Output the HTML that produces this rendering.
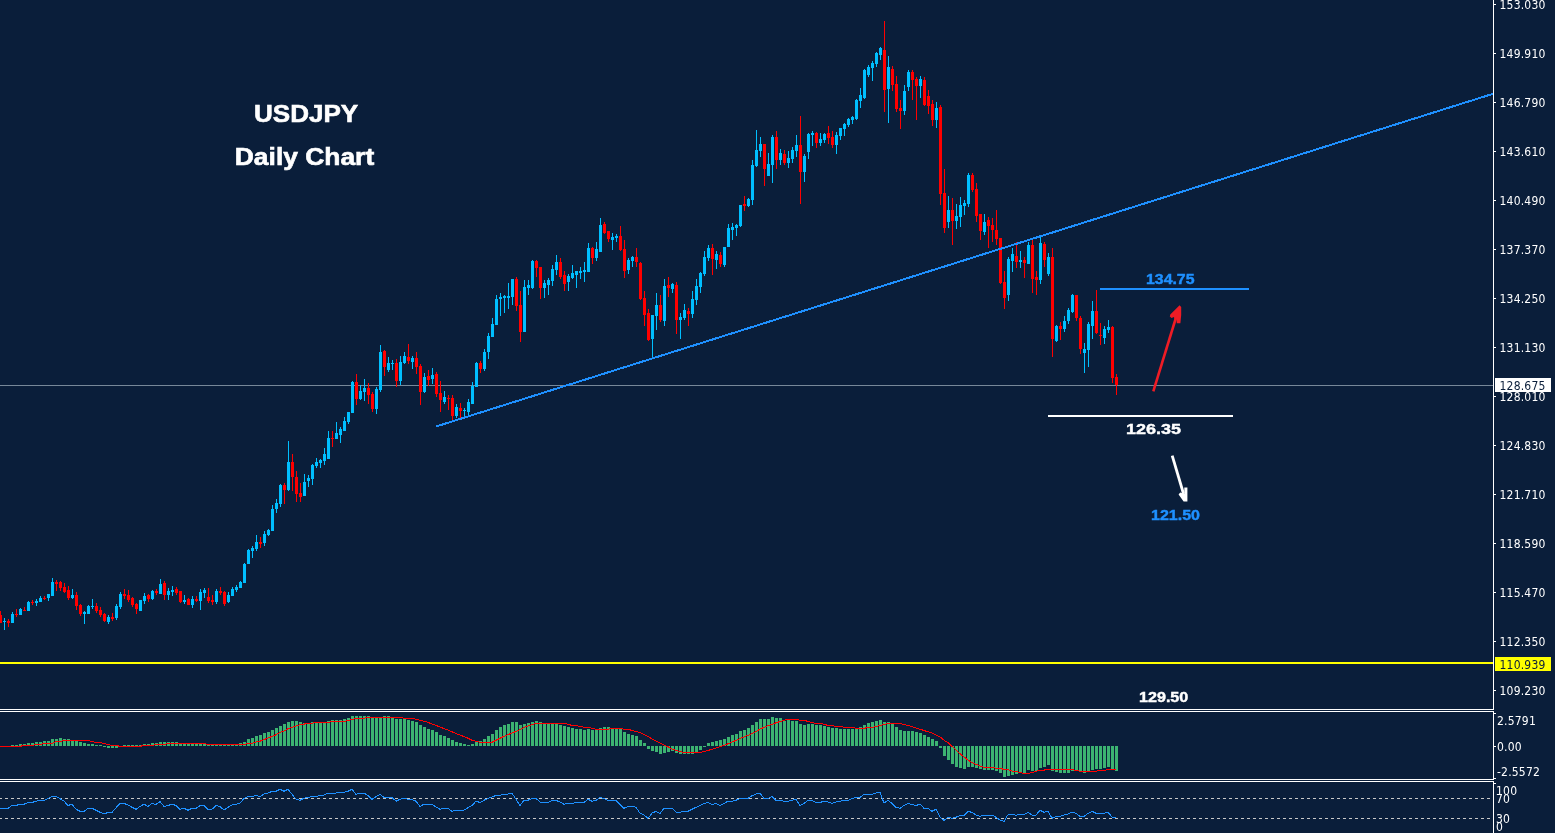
<!DOCTYPE html>
<html><head><meta charset="utf-8"><title>USDJPY Daily Chart</title>
<style>html,body{margin:0;padding:0;background:#0A1E3A;overflow:hidden;width:1555px;height:833px}svg{display:block}.ax{font-family:"DejaVu Sans Condensed","DejaVu Sans","Liberation Sans",sans-serif;font-stretch:condensed;font-size:12px;fill:#FFFFFF;letter-spacing:0.2px}.bd{font-family:"Liberation Sans",Arial,sans-serif;font-weight:bold}</style>
</head><body>
<svg width="1555" height="833" viewBox="0 0 1555 833">
<rect x="0" y="0" width="1555" height="833" fill="#0A1E3A"/>
<rect x="0" y="662" width="1493" height="2" fill="#FFFF00" shape-rendering="crispEdges"/>
<rect x="0" y="385" width="1493" height="1" fill="#778899" shape-rendering="crispEdges"/>
<g shape-rendering="crispEdges">
<path fill="#00BFFF" d="M4 618h1v12h-1zM12 612h1v11h-1zM20 608h1v7h-1zM28 601h1v10h-1zM36 599h1v7h-1zM40 596h1v6h-1zM48 594h1v7h-1zM52 578h1v18h-1zM72 589h1v10h-1zM84 611h1v13h-1zM88 605h1v9h-1zM92 599h1v10h-1zM108 615h1v9h-1zM116 604h1v16h-1zM120 592h1v17h-1zM140 600h1v11h-1zM144 593h1v11h-1zM152 590h1v10h-1zM160 579h1v15h-1zM168 588h1v12h-1zM172 586h1v10h-1zM184 595h1v9h-1zM192 596h1v12h-1zM200 589h1v21h-1zM204 588h1v10h-1zM216 589h1v15h-1zM228 592h1v11h-1zM232 587h1v9h-1zM236 585h1v7h-1zM240 581h1v7h-1zM244 563h1v20h-1zM248 549h1v15h-1zM252 546h1v12h-1zM256 535h1v16h-1zM264 531h1v15h-1zM268 529h1v7h-1zM272 505h1v26h-1zM276 499h1v14h-1zM280 484h1v23h-1zM288 441h1v50h-1zM304 474h1v22h-1zM308 475h1v12h-1zM312 464h1v21h-1zM316 458h1v10h-1zM320 459h1v9h-1zM324 448h1v17h-1zM328 431h1v28h-1zM336 422h1v17h-1zM340 427h1v16h-1zM344 417h1v14h-1zM348 412h1v12h-1zM352 381h1v32h-1zM360 385h1v15h-1zM364 379h1v22h-1zM376 387h1v27h-1zM380 345h1v47h-1zM388 357h1v15h-1zM392 360h1v10h-1zM400 356h1v29h-1zM404 352h1v12h-1zM412 356h1v13h-1zM424 373h1v20h-1zM432 368h1v16h-1zM444 391h1v13h-1zM456 404h1v14h-1zM464 408h1v9h-1zM468 399h1v16h-1zM472 382h1v22h-1zM476 362h1v25h-1zM484 349h1v22h-1zM488 333h1v26h-1zM492 318h1v19h-1zM496 295h1v30h-1zM500 293h1v23h-1zM504 295h1v18h-1zM508 283h1v26h-1zM512 279h1v26h-1zM524 280h1v52h-1zM528 280h1v15h-1zM532 260h1v29h-1zM544 280h1v18h-1zM548 278h1v17h-1zM552 265h1v21h-1zM556 255h1v20h-1zM568 274h1v17h-1zM572 265h1v14h-1zM576 271h1v17h-1zM580 267h1v12h-1zM584 262h1v20h-1zM588 243h1v29h-1zM596 242h1v19h-1zM600 218h1v34h-1zM612 233h1v17h-1zM616 234h1v8h-1zM628 258h1v16h-1zM632 256h1v11h-1zM652 315h1v42h-1zM656 293h1v37h-1zM664 279h1v47h-1zM672 283h1v10h-1zM680 313h1v26h-1zM684 304h1v16h-1zM692 291h1v27h-1zM696 279h1v26h-1zM700 272h1v21h-1zM704 251h1v25h-1zM708 245h1v16h-1zM716 251h1v18h-1zM724 247h1v20h-1zM728 224h1v23h-1zM732 223h1v17h-1zM736 224h1v12h-1zM740 205h1v22h-1zM748 198h1v9h-1zM752 160h1v45h-1zM756 130h1v37h-1zM760 137h1v20h-1zM768 153h1v23h-1zM772 135h1v48h-1zM780 149h1v16h-1zM788 151h1v17h-1zM792 147h1v16h-1zM796 135h1v22h-1zM804 154h1v28h-1zM808 133h1v26h-1zM812 131h1v15h-1zM820 133h1v13h-1zM824 133h1v10h-1zM836 132h1v22h-1zM840 128h1v12h-1zM844 123h1v13h-1zM848 118h1v9h-1zM852 116h1v8h-1zM856 99h1v21h-1zM860 88h1v20h-1zM864 69h1v30h-1zM868 65h1v12h-1zM872 61h1v20h-1zM876 52h1v15h-1zM880 47h1v13h-1zM888 56h1v67h-1zM904 85h1v30h-1zM908 70h1v21h-1zM920 76h1v22h-1zM936 102h1v26h-1zM948 196h1v32h-1zM956 204h1v25h-1zM960 197h1v30h-1zM964 200h1v15h-1zM968 173h1v34h-1zM984 214h1v21h-1zM1008 257h1v44h-1zM1012 248h1v24h-1zM1020 251h1v17h-1zM1028 242h1v22h-1zM1040 237h1v47h-1zM1048 253h1v23h-1zM1056 325h1v17h-1zM1064 316h1v16h-1zM1068 308h1v16h-1zM1072 294h1v19h-1zM1084 343h1v30h-1zM1088 322h1v45h-1zM1092 301h1v38h-1zM1104 326h1v18h-1zM1108 320h1v13h-1zM3 621h3v1h-3zM11 614h3v9h-3zM19 609h3v6h-3zM27 602h3v9h-3zM35 601h3v2h-3zM39 598h3v4h-3zM47 594h3v4h-3zM51 582h3v14h-3zM71 595h3v3h-3zM83 612h3v2h-3zM87 606h3v8h-3zM91 606h3v1h-3zM107 617h3v5h-3zM115 606h3v12h-3zM119 594h3v13h-3zM139 600h3v11h-3zM143 596h3v5h-3zM151 591h3v8h-3zM159 584h3v10h-3zM167 591h3v4h-3zM171 590h3v2h-3zM183 600h3v2h-3zM191 599h3v6h-3zM199 592h3v9h-3zM203 590h3v3h-3zM215 591h3v11h-3zM227 595h3v7h-3zM231 589h3v7h-3zM235 587h3v3h-3zM239 582h3v6h-3zM243 564h3v19h-3zM247 550h3v14h-3zM251 548h3v3h-3zM255 542h3v7h-3zM263 534h3v9h-3zM267 530h3v5h-3zM271 509h3v22h-3zM275 503h3v6h-3zM279 485h3v19h-3zM287 462h3v28h-3zM303 482h3v14h-3zM307 478h3v3h-3zM311 465h3v14h-3zM315 462h3v4h-3zM319 460h3v3h-3zM323 454h3v7h-3zM327 438h3v21h-3zM335 433h3v6h-3zM339 429h3v6h-3zM343 421h3v10h-3zM347 412h3v10h-3zM351 382h3v31h-3zM359 391h3v8h-3zM363 388h3v4h-3zM375 389h3v20h-3zM379 352h3v38h-3zM387 363h3v7h-3zM391 363h3v1h-3zM399 362h3v19h-3zM403 356h3v7h-3zM411 358h3v4h-3zM423 377h3v15h-3zM431 375h3v4h-3zM443 397h3v5h-3zM455 407h3v9h-3zM463 410h3v1h-3zM467 402h3v10h-3zM471 386h3v18h-3zM475 363h3v24h-3zM483 352h3v17h-3zM487 336h3v16h-3zM491 324h3v13h-3zM495 299h3v26h-3zM499 297h3v2h-3zM503 296h3v2h-3zM507 296h3v2h-3zM511 279h3v18h-3zM523 287h3v45h-3zM527 285h3v3h-3zM531 261h3v27h-3zM543 283h3v5h-3zM547 280h3v5h-3zM551 269h3v12h-3zM555 262h3v8h-3zM567 276h3v6h-3zM571 273h3v5h-3zM575 271h3v4h-3zM579 271h3v2h-3zM583 270h3v2h-3zM587 248h3v24h-3zM595 249h3v9h-3zM599 225h3v27h-3zM611 237h3v3h-3zM615 236h3v2h-3zM627 260h3v10h-3zM631 257h3v4h-3zM651 315h3v24h-3zM655 305h3v11h-3zM663 286h3v35h-3zM671 284h3v5h-3zM679 317h3v3h-3zM683 310h3v8h-3zM691 299h3v15h-3zM695 286h3v14h-3zM699 273h3v14h-3zM703 257h3v17h-3zM707 248h3v10h-3zM715 254h3v6h-3zM723 247h3v18h-3zM727 228h3v19h-3zM731 227h3v3h-3zM735 225h3v3h-3zM739 205h3v21h-3zM747 199h3v7h-3zM751 165h3v35h-3zM755 150h3v16h-3zM759 144h3v7h-3zM767 164h3v12h-3zM771 137h3v28h-3zM779 153h3v7h-3zM787 158h3v5h-3zM791 150h3v9h-3zM795 145h3v6h-3zM803 156h3v16h-3zM807 134h3v18h-3zM811 133h3v2h-3zM819 139h3v4h-3zM823 134h3v6h-3zM835 135h3v10h-3zM839 128h3v8h-3zM843 124h3v5h-3zM847 119h3v6h-3zM851 117h3v3h-3zM855 100h3v19h-3zM859 95h3v6h-3zM863 70h3v28h-3zM867 67h3v8h-3zM871 63h3v5h-3zM875 53h3v11h-3zM879 48h3v7h-3zM887 67h3v22h-3zM903 91h3v20h-3zM907 72h3v15h-3zM919 79h3v7h-3zM935 108h3v12h-3zM947 210h3v12h-3zM955 216h3v5h-3zM959 205h3v12h-3zM963 203h3v3h-3zM967 175h3v29h-3zM983 222h3v10h-3zM1007 259h3v36h-3zM1011 254h3v7h-3zM1019 260h3v2h-3zM1027 245h3v19h-3zM1039 243h3v37h-3zM1047 257h3v17h-3zM1055 326h3v15h-3zM1063 321h3v8h-3zM1067 310h3v11h-3zM1071 295h3v17h-3zM1083 349h3v4h-3zM1087 324h3v26h-3zM1091 311h3v15h-3zM1103 329h3v9h-3zM1107 327h3v3h-3z"/>
<path fill="#FF0000" d="M0 611h1v12h-1zM8 619h1v8h-1zM16 609h1v8h-1zM24 607h1v4h-1zM32 600h1v5h-1zM44 596h1v4h-1zM56 580h1v11h-1zM60 581h1v10h-1zM64 583h1v10h-1zM68 586h1v14h-1zM76 592h1v18h-1zM80 604h1v12h-1zM96 603h1v10h-1zM100 607h1v10h-1zM104 613h1v9h-1zM112 613h1v8h-1zM124 589h1v10h-1zM128 590h1v12h-1zM132 597h1v10h-1zM136 603h1v11h-1zM148 594h1v8h-1zM156 589h1v6h-1zM164 581h1v19h-1zM176 587h1v8h-1zM180 591h1v12h-1zM188 598h1v7h-1zM196 596h1v6h-1zM208 588h1v15h-1zM212 595h1v10h-1zM220 587h1v8h-1zM224 591h1v15h-1zM260 537h1v11h-1zM284 483h1v21h-1zM292 454h1v37h-1zM296 471h1v31h-1zM300 483h1v19h-1zM332 431h1v16h-1zM356 374h1v31h-1zM368 383h1v21h-1zM372 392h1v20h-1zM384 350h1v26h-1zM396 359h1v28h-1zM408 344h1v20h-1zM416 352h1v22h-1zM420 364h1v41h-1zM428 370h1v16h-1zM436 372h1v25h-1zM440 381h1v31h-1zM448 395h1v15h-1zM452 395h1v25h-1zM460 403h1v15h-1zM480 361h1v12h-1zM516 277h1v34h-1zM520 291h1v51h-1zM536 260h1v17h-1zM540 267h1v32h-1zM560 258h1v21h-1zM564 271h1v20h-1zM592 247h1v17h-1zM604 222h1v12h-1zM608 231h1v11h-1zM620 226h1v25h-1zM624 240h1v38h-1zM636 248h1v19h-1zM640 262h1v38h-1zM644 291h1v35h-1zM648 309h1v32h-1zM660 295h1v27h-1zM668 277h1v20h-1zM676 282h1v52h-1zM688 308h1v18h-1zM712 244h1v31h-1zM720 252h1v15h-1zM744 196h1v15h-1zM764 144h1v42h-1zM776 131h1v38h-1zM784 150h1v15h-1zM800 116h1v88h-1zM816 132h1v16h-1zM828 126h1v18h-1zM832 131h1v17h-1zM884 21h1v91h-1zM892 66h1v25h-1zM896 76h1v36h-1zM900 100h1v29h-1zM912 70h1v30h-1zM916 77h1v43h-1zM924 77h1v29h-1zM928 90h1v24h-1zM932 100h1v26h-1zM940 105h1v100h-1zM944 169h1v64h-1zM952 198h1v47h-1zM972 173h1v19h-1zM976 183h1v39h-1zM980 214h1v26h-1zM988 217h1v31h-1zM992 218h1v24h-1zM996 210h1v35h-1zM1000 238h1v46h-1zM1004 271h1v38h-1zM1016 242h1v26h-1zM1024 257h1v21h-1zM1032 240h1v53h-1zM1036 271h1v24h-1zM1044 242h1v25h-1zM1052 248h1v109h-1zM1060 322h1v18h-1zM1076 295h1v26h-1zM1080 316h1v38h-1zM1096 290h1v44h-1zM1100 323h1v22h-1zM1112 326h1v57h-1zM1116 374h1v21h-1zM-1 615h3v8h-3zM7 621h3v2h-3zM15 614h3v1h-3zM23 610h3v1h-3zM31 602h3v1h-3zM43 598h3v1h-3zM55 582h3v2h-3zM59 582h3v6h-3zM63 587h3v5h-3zM67 590h3v8h-3zM75 595h3v11h-3zM79 605h3v9h-3zM95 606h3v5h-3zM99 610h3v5h-3zM103 614h3v7h-3zM111 617h3v2h-3zM123 594h3v2h-3zM127 595h3v5h-3zM131 598h3v7h-3zM135 604h3v5h-3zM147 595h3v4h-3zM155 591h3v2h-3zM163 583h3v12h-3zM175 589h3v4h-3zM179 591h3v11h-3zM187 599h3v6h-3zM195 599h3v2h-3zM207 597h3v4h-3zM211 600h3v2h-3zM219 591h3v2h-3zM223 592h3v12h-3zM259 542h3v2h-3zM283 485h3v5h-3zM291 462h3v15h-3zM295 477h3v17h-3zM299 493h3v4h-3zM331 438h3v1h-3zM355 382h3v17h-3zM367 388h3v7h-3zM371 394h3v15h-3zM383 351h3v16h-3zM395 363h3v18h-3zM407 357h3v4h-3zM415 358h3v9h-3zM419 366h3v26h-3zM427 376h3v4h-3zM435 374h3v20h-3zM439 393h3v7h-3zM447 398h3v1h-3zM451 398h3v18h-3zM459 408h3v3h-3zM479 363h3v6h-3zM515 279h3v27h-3zM519 305h3v27h-3zM535 261h3v7h-3zM539 267h3v21h-3zM559 262h3v15h-3zM563 275h3v9h-3zM591 248h3v10h-3zM603 224h3v9h-3zM607 231h3v8h-3zM619 236h3v14h-3zM623 249h3v22h-3zM635 257h3v5h-3zM639 263h3v36h-3zM643 298h3v17h-3zM647 313h3v27h-3zM659 305h3v15h-3zM667 285h3v3h-3zM675 285h3v35h-3zM687 311h3v3h-3zM711 248h3v11h-3zM719 255h3v9h-3zM743 204h3v2h-3zM763 144h3v25h-3zM775 137h3v23h-3zM783 154h3v9h-3zM799 145h3v27h-3zM815 133h3v10h-3zM827 133h3v5h-3zM831 137h3v8h-3zM883 50h3v40h-3zM891 69h3v16h-3zM895 84h3v25h-3zM899 108h3v3h-3zM911 72h3v8h-3zM915 79h3v7h-3zM923 80h3v25h-3zM927 96h3v10h-3zM931 104h3v16h-3zM939 107h3v87h-3zM943 193h3v35h-3zM951 210h3v11h-3zM971 175h3v15h-3zM975 189h3v27h-3zM979 214h3v17h-3zM987 220h3v6h-3zM991 225h3v5h-3zM995 230h3v9h-3zM999 238h3v45h-3zM1003 282h3v16h-3zM1015 256h3v6h-3zM1023 260h3v3h-3zM1031 245h3v34h-3zM1035 277h3v3h-3zM1043 244h3v16h-3zM1051 257h3v82h-3zM1059 326h3v3h-3zM1075 295h3v23h-3zM1079 318h3v31h-3zM1095 311h3v22h-3zM1099 335h3v1h-3zM1111 327h3v51h-3zM1115 377h3v8h-3z"/>
</g>
<line x1="436.4" y1="426.4" x2="1493.0" y2="93.8" stroke="#1E90FF" stroke-width="2" shape-rendering="crispEdges"/>
<rect x="1100" y="288" width="149" height="2" fill="#1E90FF" shape-rendering="crispEdges"/>
<text class="bd" x="1146" y="284" font-size="13.8" fill="#1E90FF" stroke="#1E90FF" stroke-width="0.4" textLength="48.5" lengthAdjust="spacingAndGlyphs">134.75</text>
<rect x="1048" y="415" width="185" height="2" fill="#FFFFFF" shape-rendering="crispEdges"/>
<text class="bd" x="1126" y="434" font-size="15.4" fill="#FFFFFF" stroke="#FFFFFF" stroke-width="0.4" textLength="55" lengthAdjust="spacingAndGlyphs">126.35</text>
<text class="bd" x="1151" y="520" font-size="14" fill="#1E90FF" stroke="#1E90FF" stroke-width="0.4" textLength="49" lengthAdjust="spacingAndGlyphs">121.50</text>
<text class="bd" x="1139" y="702" font-size="14" fill="#FFFFFF" stroke="#FFFFFF" stroke-width="0.4" textLength="49.3" lengthAdjust="spacingAndGlyphs">129.50</text>
<line x1="1153.3" y1="391.3" x2="1176.5" y2="316" stroke="#EE1C25" stroke-width="2.6"/>
<polygon fill="#EE1C25" points="1179.6,305.3 1181.2,307 1181.2,315 1180.4,323.2 1176.8,323.2 1176.4,319.2 1174.6,319.6 1174,317 1171.6,318 1169.8,316.4 1170.3,314.6"/>
<line x1="1172.2" y1="455.6" x2="1183.6" y2="494" stroke="#FFFFFF" stroke-width="2.8"/>
<polygon fill="#FFFFFF" points="1184.3,487.4 1187.4,487.4 1187.4,501.6 1183.6,501.6 1178.6,494.4 1180.2,492.6 1184.3,494"/>
<text class="bd" x="254" y="122" font-size="24.2" fill="#FFFFFF" stroke="#FFFFFF" stroke-width="0.6" textLength="104.2" lengthAdjust="spacingAndGlyphs">USDJPY</text>
<text class="bd" x="234.8" y="165" font-size="23.5" fill="#FFFFFF" stroke="#FFFFFF" stroke-width="0.6" textLength="139.4" lengthAdjust="spacingAndGlyphs">Daily Chart</text>
<path fill="#FFFFFF" shape-rendering="crispEdges" d="M1493 0h1v710h-1zM0 709h1494v1h-1494zM0 711h1494v1h-1494zM1493 711h1v69h-1zM0 779h1494v1h-1494zM0 781h1494v1h-1494zM1493 781h1v52h-1zM1494 4h2v1h-2zM1494 53h2v1h-2zM1494 102h2v1h-2zM1494 151h2v1h-2zM1494 200h2v1h-2zM1494 249h2v1h-2zM1494 298h2v1h-2zM1494 347h2v1h-2zM1494 396h2v1h-2zM1494 445h2v1h-2zM1494 494h2v1h-2zM1494 543h2v1h-2zM1494 592h2v1h-2zM1494 641h2v1h-2zM1494 690h2v1h-2zM1494 713h2v1h-2zM1494 746h2v1h-2zM1494 778h2v1h-2zM1494 783h2v1h-2z"/>
<text class="ax" x="1499.5" y="9" letter-spacing="0.2">153.030</text>
<text class="ax" x="1499.5" y="58" letter-spacing="0.2">149.910</text>
<text class="ax" x="1499.5" y="107" letter-spacing="0.2">146.790</text>
<text class="ax" x="1499.5" y="156" letter-spacing="0.2">143.610</text>
<text class="ax" x="1499.5" y="205" letter-spacing="0.2">140.490</text>
<text class="ax" x="1499.5" y="254" letter-spacing="0.2">137.370</text>
<text class="ax" x="1499.5" y="303" letter-spacing="0.2">134.250</text>
<text class="ax" x="1499.5" y="352" letter-spacing="0.2">131.130</text>
<text class="ax" x="1499.5" y="401" letter-spacing="0.2">128.010</text>
<text class="ax" x="1499.5" y="450" letter-spacing="0.2">124.830</text>
<text class="ax" x="1499.5" y="499" letter-spacing="0.2">121.710</text>
<text class="ax" x="1499.5" y="548" letter-spacing="0.2">118.590</text>
<text class="ax" x="1499.5" y="597" letter-spacing="0.2">115.470</text>
<text class="ax" x="1499.5" y="646" letter-spacing="0.2">112.350</text>
<text class="ax" x="1499.5" y="695" letter-spacing="0.2">109.230</text>
<rect x="1495" y="378" width="56" height="14" fill="#FFFFFF" shape-rendering="crispEdges"/>
<text class="ax" x="1499.5" y="390" letter-spacing="0.2" style="fill:#0A1E3A">128.675</text>
<rect x="1495" y="657" width="56" height="14" fill="#FFFF00" shape-rendering="crispEdges"/>
<text class="ax" x="1499.5" y="669" letter-spacing="0.2" style="fill:#0A1E3A">110.939</text>
<path fill="#3CB371" shape-rendering="crispEdges" d="M11 745h3v1h-3zM15 745h3v1h-3zM19 744h3v2h-3zM23 744h3v2h-3zM27 743h3v3h-3zM31 743h3v3h-3zM35 742h3v4h-3zM39 742h3v4h-3zM43 741h3v5h-3zM47 741h3v5h-3zM51 739h3v7h-3zM55 739h3v7h-3zM59 738h3v8h-3zM63 739h3v7h-3zM67 739h3v7h-3zM71 741h3v5h-3zM75 741h3v5h-3zM79 742h3v4h-3zM83 743h3v3h-3zM87 744h3v2h-3zM91 744h3v2h-3zM95 745h3v1h-3zM99 745h3v1h-3zM103 746h3v1h-3zM107 746h3v2h-3zM111 746h3v2h-3zM115 746h3v2h-3zM123 745h3v1h-3zM127 745h3v1h-3zM131 745h3v1h-3zM135 745h3v1h-3zM139 745h3v1h-3zM143 744h3v2h-3zM147 744h3v2h-3zM151 743h3v3h-3zM155 743h3v3h-3zM159 742h3v4h-3zM163 742h3v4h-3zM167 742h3v4h-3zM171 742h3v4h-3zM175 742h3v4h-3zM179 744h3v2h-3zM183 744h3v2h-3zM187 744h3v2h-3zM191 744h3v2h-3zM195 744h3v2h-3zM199 744h3v2h-3zM203 744h3v2h-3zM207 745h3v1h-3zM211 745h3v1h-3zM215 745h3v1h-3zM219 745h3v1h-3zM223 745h3v1h-3zM227 745h3v1h-3zM231 745h3v1h-3zM235 745h3v1h-3zM239 743h3v3h-3zM243 742h3v4h-3zM247 739h3v7h-3zM251 738h3v8h-3zM255 736h3v10h-3zM259 735h3v11h-3zM263 733h3v13h-3zM267 732h3v14h-3zM271 730h3v16h-3zM275 728h3v18h-3zM279 726h3v20h-3zM283 724h3v22h-3zM287 722h3v24h-3zM291 721h3v25h-3zM295 721h3v25h-3zM299 722h3v24h-3zM303 723h3v23h-3zM307 723h3v23h-3zM311 722h3v24h-3zM315 722h3v24h-3zM319 722h3v24h-3zM323 722h3v24h-3zM327 721h3v25h-3zM331 720h3v26h-3zM335 720h3v26h-3zM339 720h3v26h-3zM343 719h3v27h-3zM347 718h3v28h-3zM351 716h3v30h-3zM355 716h3v30h-3zM359 716h3v30h-3zM363 716h3v30h-3zM367 716h3v30h-3zM371 717h3v29h-3zM375 717h3v29h-3zM379 717h3v29h-3zM383 716h3v30h-3zM387 716h3v30h-3zM391 718h3v28h-3zM395 719h3v27h-3zM399 719h3v27h-3zM403 719h3v27h-3zM407 720h3v26h-3zM411 721h3v25h-3zM415 722h3v24h-3zM419 725h3v21h-3zM423 727h3v19h-3zM427 729h3v17h-3zM431 730h3v16h-3zM435 732h3v14h-3zM439 735h3v11h-3zM443 736h3v10h-3zM447 738h3v8h-3zM451 740h3v6h-3zM455 742h3v4h-3zM459 743h3v3h-3zM463 744h3v2h-3zM467 745h3v1h-3zM471 744h3v2h-3zM475 742h3v4h-3zM479 741h3v5h-3zM483 739h3v7h-3zM487 736h3v10h-3zM491 734h3v12h-3zM495 730h3v16h-3zM499 727h3v19h-3zM503 725h3v21h-3zM507 724h3v22h-3zM511 722h3v24h-3zM515 722h3v24h-3zM519 725h3v21h-3zM523 724h3v22h-3zM527 723h3v23h-3zM531 722h3v24h-3zM535 721h3v25h-3zM539 722h3v24h-3zM543 724h3v22h-3zM547 724h3v22h-3zM551 724h3v22h-3zM555 724h3v22h-3zM559 725h3v21h-3zM563 726h3v20h-3zM567 727h3v19h-3zM571 728h3v18h-3zM575 729h3v17h-3zM579 729h3v17h-3zM583 730h3v16h-3zM587 729h3v17h-3zM591 730h3v16h-3zM595 729h3v17h-3zM599 728h3v18h-3zM603 727h3v19h-3zM607 727h3v19h-3zM611 728h3v18h-3zM615 729h3v17h-3zM619 729h3v17h-3zM623 732h3v14h-3zM627 734h3v12h-3zM631 735h3v11h-3zM635 736h3v10h-3zM639 740h3v6h-3zM643 743h3v3h-3zM647 746h3v3h-3zM651 746h3v5h-3zM655 746h3v6h-3zM659 746h3v8h-3zM663 746h3v7h-3zM667 746h3v6h-3zM671 746h3v5h-3zM675 746h3v7h-3zM679 746h3v8h-3zM683 746h3v8h-3zM687 746h3v8h-3zM691 746h3v8h-3zM695 746h3v6h-3zM699 746h3v4h-3zM703 746h3v1h-3zM707 743h3v3h-3zM711 742h3v4h-3zM715 741h3v5h-3zM719 740h3v6h-3zM723 739h3v7h-3zM727 737h3v9h-3zM731 735h3v11h-3zM735 734h3v12h-3zM739 731h3v15h-3zM743 730h3v16h-3zM747 728h3v18h-3zM751 725h3v21h-3zM755 722h3v24h-3zM759 719h3v27h-3zM763 719h3v27h-3zM767 719h3v27h-3zM771 717h3v29h-3zM775 718h3v28h-3zM779 718h3v28h-3zM783 721h3v25h-3zM787 720h3v26h-3zM791 721h3v25h-3zM795 721h3v25h-3zM799 724h3v22h-3zM803 725h3v21h-3zM807 724h3v22h-3zM811 724h3v22h-3zM815 725h3v21h-3zM819 725h3v21h-3zM823 726h3v20h-3zM827 727h3v19h-3zM831 728h3v18h-3zM835 728h3v18h-3zM839 729h3v17h-3zM843 729h3v17h-3zM847 729h3v17h-3zM851 729h3v17h-3zM855 729h3v17h-3zM859 727h3v19h-3zM863 725h3v21h-3zM867 723h3v23h-3zM871 722h3v24h-3zM875 721h3v25h-3zM879 720h3v26h-3zM883 722h3v24h-3zM887 722h3v24h-3zM891 724h3v22h-3zM895 727h3v19h-3zM899 730h3v16h-3zM903 731h3v15h-3zM907 731h3v15h-3zM911 731h3v15h-3zM915 732h3v14h-3zM919 733h3v13h-3zM923 735h3v11h-3zM927 737h3v9h-3zM931 739h3v7h-3zM935 741h3v5h-3zM939 746h3v2h-3zM943 746h3v10h-3zM947 746h3v14h-3zM951 746h3v18h-3zM955 746h3v21h-3zM959 746h3v22h-3zM963 746h3v23h-3zM967 746h3v21h-3zM971 746h3v21h-3zM975 746h3v22h-3zM979 746h3v23h-3zM983 746h3v24h-3zM987 746h3v24h-3zM991 746h3v24h-3zM995 746h3v25h-3zM999 746h3v27h-3zM1003 746h3v31h-3zM1007 746h3v30h-3zM1011 746h3v29h-3zM1015 746h3v28h-3zM1019 746h3v27h-3zM1023 746h3v27h-3zM1027 746h3v24h-3zM1031 746h3v25h-3zM1035 746h3v25h-3zM1039 746h3v22h-3zM1043 746h3v21h-3zM1047 746h3v19h-3zM1051 746h3v25h-3zM1055 746h3v26h-3zM1059 746h3v27h-3zM1063 746h3v27h-3zM1067 746h3v27h-3zM1071 746h3v25h-3zM1075 746h3v25h-3zM1079 746h3v26h-3zM1083 746h3v27h-3zM1087 746h3v25h-3zM1091 746h3v24h-3zM1095 746h3v23h-3zM1099 746h3v23h-3zM1103 746h3v22h-3zM1107 746h3v21h-3zM1111 746h3v23h-3zM1115 746h3v25h-3z"/>
<polyline fill="none" stroke="#FF0000" stroke-width="1" shape-rendering="crispEdges" points="0,746.3 4,746.3 8,746.3 12,746.3 16,746.3 20,746.3 24,745.5 28,745.5 32,745.5 36,744.4 40,744.4 44,743.4 48,743.4 52,743.4 56,741.4 60,741.4 64,740.4 68,740.4 72,740.4 76,740.4 80,740.4 84,740.4 88,740.4 92,741.4 96,742.5 100,742.5 104,743.4 108,744.4 112,745.5 116,745.5 120,746.3 124,746.3 128,746.3 132,746.3 136,746.3 140,746.3 144,745.5 148,745.5 152,745.5 156,744.4 160,744.4 164,744.4 168,743.4 172,743.4 176,743.4 180,743.4 184,743.4 188,743.4 192,743.4 196,743.4 200,743.4 204,743.4 208,744.4 212,744.4 216,744.4 220,744.4 224,744.4 228,744.4 232,744.4 236,744.4 240,744.4 244,744.4 248,743.4 252,743.4 256,742.0 260,741.2 264,739.5 268,738.2 272,736.3 276,734.8 280,732.4 284,730.9 288,728.8 292,727.3 296,726.0 300,724.7 304,724.1 308,723.4 312,723.2 316,722.4 320,722.4 324,722.4 328,722.4 332,721.5 336,721.5 340,721.5 344,721.5 348,720.6 352,719.6 356,718.5 360,718.3 364,718.3 368,717.4 372,717.4 376,717.4 380,717.4 384,717.4 388,717.4 392,717.4 396,717.4 400,717.4 404,718.3 408,718.3 412,718.3 416,719.3 420,720.3 424,721.2 428,722.4 432,724.1 436,725.4 440,727.0 444,728.6 448,730.1 452,731.8 456,733.5 460,735.0 464,736.6 468,738.2 472,740.2 476,741.2 480,742.3 484,742.3 488,742.3 492,742.3 496,740.2 500,738.2 504,736.3 508,734.6 512,733.1 516,731.4 520,729.6 524,727.3 528,726.0 532,724.7 536,723.4 540,723.4 544,723.4 548,723.4 552,723.4 556,723.4 560,723.4 564,723.4 568,724.3 572,725.4 576,725.4 580,726.4 584,727.3 588,727.3 592,728.3 596,729.2 600,729.2 604,729.2 608,729.2 612,728.3 616,728.3 620,728.3 624,729.2 628,729.2 632,730.5 636,731.4 640,732.4 644,734.4 648,736.6 652,738.9 656,741.2 660,743.0 664,745.0 668,746.8 672,748.9 676,750.4 680,751.7 684,752.4 688,752.4 692,752.4 696,752.4 700,752.4 704,751.5 708,750.4 712,749.4 716,748.1 720,746.6 724,745.3 728,743.8 732,742.1 736,740.4 740,738.6 744,736.9 748,735.3 752,733.5 756,731.4 760,729.2 764,727.3 768,725.7 772,724.5 776,722.8 780,721.5 784,720.4 788,719.3 792,719.3 796,719.3 800,720.3 804,720.3 808,721.4 812,722.4 816,723.4 820,723.4 824,724.3 828,725.4 832,725.4 836,726.4 840,726.4 844,727.3 848,727.3 852,727.3 856,728.3 860,728.3 864,728.3 868,727.5 872,727.5 876,726.6 880,725.6 884,724.5 888,723.4 892,723.4 896,723.4 900,723.4 904,724.5 908,725.4 912,726.6 916,727.9 920,729.2 924,730.5 928,731.8 932,733.1 936,735.0 940,736.9 944,740.2 948,742.7 952,746.3 956,749.8 960,753.7 964,756.9 968,760.1 972,762.7 976,764.3 980,766.0 984,767.2 988,767.2 992,767.2 996,768.2 1000,768.2 1004,769.5 1008,769.5 1012,771.0 1016,771.0 1020,772.7 1024,773.3 1028,773.3 1032,772.7 1036,771.3 1040,770.1 1044,770.1 1048,769.4 1052,769.4 1056,769.4 1060,769.4 1064,769.4 1068,769.4 1072,769.4 1076,770.4 1080,771.3 1084,771.3 1088,771.3 1092,771.3 1096,771.3 1100,770.4 1104,770.4 1108,769.4 1112,769.4 1116,769.4"/>
<text class="ax" x="1497" y="725">2.5791</text>
<text class="ax" x="1497" y="751">0.00</text>
<text class="ax" x="1497" y="776">-2.5572</text>
<g shape-rendering="crispEdges" stroke="#C8C8C8" stroke-width="1" stroke-dasharray="3 3">
<line x1="-1" y1="798.5" x2="1493" y2="798.5"/>
<line x1="-1" y1="818.5" x2="1493" y2="818.5"/>
</g>
<polyline fill="none" stroke="#1E90FF" stroke-width="1" shape-rendering="crispEdges" points="0,808.3 4,808.3 8,808.3 12,805.5 16,805.5 20,804.2 24,804.2 28,802.5 32,802.5 36,801.2 40,800.3 44,800.3 48,798.6 52,796.5 56,796.5 60,798.6 64,801.2 68,805.5 72,804.2 76,809.3 80,811.3 84,811.3 88,808.3 92,808.3 96,810.2 100,812.2 104,814.1 108,812.4 112,812.4 116,807.7 120,803.4 124,803.4 128,805.1 132,807.3 136,809.3 140,806.4 144,804.2 148,806.4 152,803.4 156,804.4 160,801.6 164,806.4 168,805.5 172,804.2 176,805.5 180,809.3 184,808.3 188,810.2 192,808.3 196,808.3 200,805.7 204,805.5 208,809.3 212,809.3 216,805.5 220,806.4 224,810.2 228,807.3 232,805.1 236,804.2 240,803.2 244,798.3 248,796.5 252,796.5 256,795.4 260,796.5 264,794.1 268,793.1 272,791.3 276,791.3 280,789.3 284,791.3 288,789.3 292,794.1 296,799.3 300,800.3 304,798.3 308,797.4 312,796.5 316,796.5 320,795.4 324,795.2 328,793.1 332,793.1 336,793.1 340,792.2 344,792.2 348,791.3 352,789.3 356,794.4 360,793.1 364,793.1 368,795.4 372,799.3 376,796.7 380,794.4 384,797.4 388,797.4 392,797.4 396,801.2 400,799.3 404,798.4 408,799.3 412,799.5 416,801.2 420,806.4 424,804.2 428,804.2 432,804.2 436,807.0 440,809.3 444,808.3 448,808.3 452,811.3 456,810.2 460,810.2 464,810.2 468,807.7 472,805.5 476,801.2 480,802.5 484,800.3 488,798.4 492,797.0 496,795.4 500,795.2 504,794.4 508,794.1 512,793.1 516,799.3 520,805.5 524,800.3 528,800.3 532,798.4 536,798.4 540,802.1 544,802.5 548,802.5 552,800.3 556,800.3 560,802.1 564,804.2 568,803.4 572,803.4 576,802.5 580,802.5 584,802.5 588,799.3 592,801.2 596,800.3 600,797.4 604,798.6 608,800.3 612,800.3 616,800.3 620,804.4 624,808.3 628,806.4 632,806.4 636,807.3 640,813.2 644,815.0 648,818.3 652,813.2 656,811.3 660,813.4 664,808.3 668,808.3 672,808.3 676,812.2 680,812.4 684,811.3 688,811.3 692,809.3 696,807.3 700,805.5 704,803.4 708,802.5 712,804.4 716,803.4 720,805.5 724,803.4 728,801.2 732,801.2 736,800.3 740,798.4 744,798.4 748,798.4 752,795.7 756,794.1 760,793.1 764,798.4 768,798.4 772,796.5 776,800.3 780,800.3 784,801.2 788,801.2 792,800.3 796,799.3 800,805.5 804,803.4 808,800.3 812,800.3 816,802.5 820,802.5 824,801.2 828,802.1 832,803.4 836,802.1 840,801.2 844,800.3 848,800.3 852,798.4 856,797.4 860,797.4 864,794.4 868,794.4 872,794.4 876,793.1 880,792.2 884,803.2 888,800.3 892,803.4 896,807.3 900,808.3 904,805.5 908,803.4 912,804.4 916,805.5 920,804.2 924,808.3 928,808.3 932,811.3 936,809.3 940,817.3 944,820.5 948,817.3 952,818.3 956,817.3 960,815.4 964,815.4 968,811.3 972,812.4 976,815.0 980,816.3 984,815.0 988,815.0 992,815.0 996,817.3 1000,820.1 1004,821.4 1008,814.7 1012,814.1 1016,815.4 1020,814.1 1024,814.7 1028,812.2 1032,815.0 1036,815.0 1040,810.2 1044,812.2 1048,811.3 1052,818.3 1056,816.4 1060,816.4 1064,815.0 1068,814.1 1072,812.2 1076,813.2 1080,816.3 1084,816.4 1088,813.4 1092,811.3 1096,813.2 1100,813.2 1104,813.2 1108,812.2 1112,817.0 1116,817.9"/>
<text class="ax" x="1496" y="795">100</text>
<text class="ax" x="1496" y="803">70</text>
<text class="ax" x="1496" y="823">30</text>
<text class="ax" x="1496" y="831">0</text>
</svg></body></html>
